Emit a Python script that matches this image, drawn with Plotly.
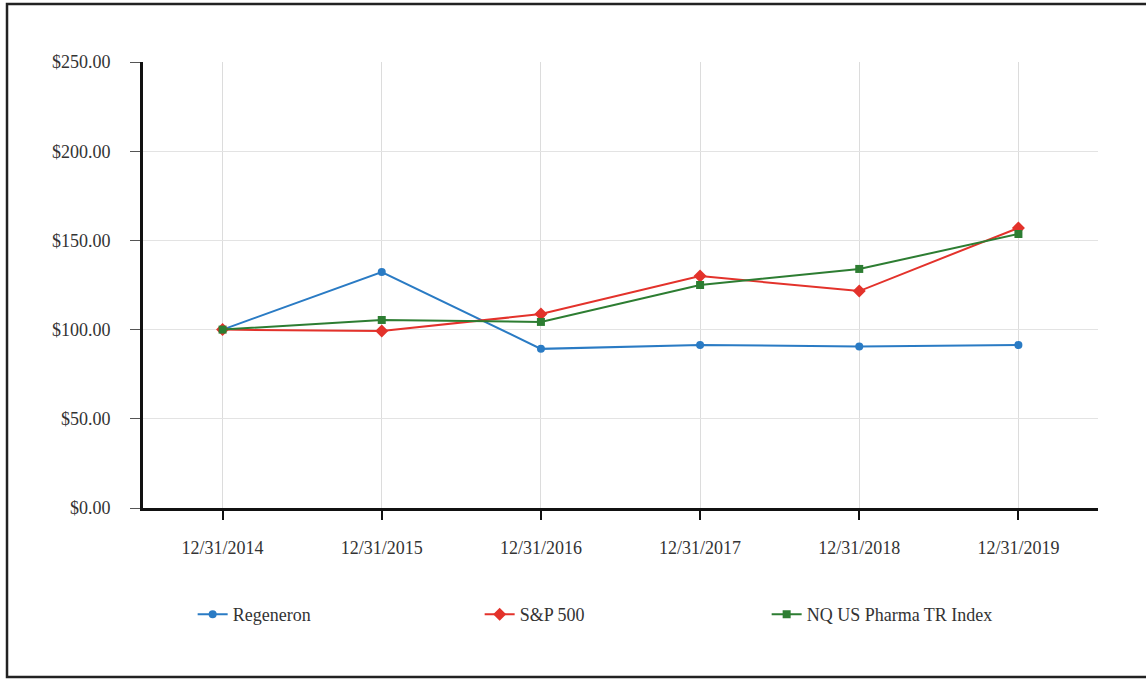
import plotly.graph_objects as go

dates = ["12/31/2014", "12/31/2015", "12/31/2016", "12/31/2017", "12/31/2018", "12/31/2019"]
regeneron = [100.0, 132.3, 89.2, 91.4, 90.5, 91.4]
sp500 = [100.0, 99.2, 108.7, 130.0, 121.6, 157.0]
nq_pharma = [100.0, 105.4, 104.3, 125.0, 134.0, 153.6]
y_ticks = [0, 50, 100, 150, 200, 250]
y_tick_labels = ["$0.00", "$50.00", "$100.00", "$150.00", "$200.00", "$250.00"]

font_family = "Liberation Serif, Times New Roman, serif"

fig = go.Figure()
fig.add_trace(go.Scatter(x=dates, y=regeneron, name="Regeneron", mode="lines+markers",
                         line=dict(color="#2a7bc4", width=2),
                         marker=dict(symbol="circle", size=8, color="#2a7bc4")))
fig.add_trace(go.Scatter(x=dates, y=sp500, name="S&P 500", mode="lines+markers",
                         line=dict(color="#e3322b", width=2),
                         marker=dict(symbol="diamond", size=10, color="#e3322b")))
fig.add_trace(go.Scatter(x=dates, y=nq_pharma, name="NQ US Pharma TR Index", mode="lines+markers",
                         line=dict(color="#2d7d32", width=2),
                         marker=dict(symbol="square", size=8, color="#2d7d32")))

fig.update_layout(
    width=1146, height=679,
    margin=dict(l=143, r=48, t=62, b=171),
    paper_bgcolor="white", plot_bgcolor="white",
    font=dict(family=font_family, size=18, color="#333333"),
    showlegend=True,
    legend=dict(orientation="h", x=0.052, xanchor="left", y=-0.239, yanchor="middle",
                entrywidth=242, entrywidthmode="pixels",
                font=dict(family=font_family, size=18, color="#333333"),
                bgcolor="rgba(0,0,0,0)"),
    shapes=[dict(type="rect", xref="paper", yref="paper",
                 x0=-0.1424, x1=1.08, y0=-0.379, y1=1.130,
                 line=dict(color="#222222", width=2.5), fillcolor="rgba(0,0,0,0)", layer="below")],
)
fig.update_xaxes(type="category", range=[-0.5, 5.5],
                 showgrid=True, gridcolor="#dcdcdc", gridwidth=1,
                 showline=True, linecolor="#111111", linewidth=3,
                 ticks="outside", ticklen=9, tickwidth=2, tickcolor="#111111",
                 ticklabelstandoff=12, zeroline=False)
fig.update_yaxes(range=[0, 250], tickvals=y_ticks, ticktext=y_tick_labels,
                 showgrid=True, gridcolor="#e3e3e3", gridwidth=1,
                 showline=True, linecolor="#111111", linewidth=3,
                 ticks="outside", ticklen=10, tickwidth=1, tickcolor="#555555",
                 ticklabelstandoff=16, zeroline=False)

fig.write_html("out.html", config={"displayModeBar": False},
               post_script="document.body.style.margin='0';")
